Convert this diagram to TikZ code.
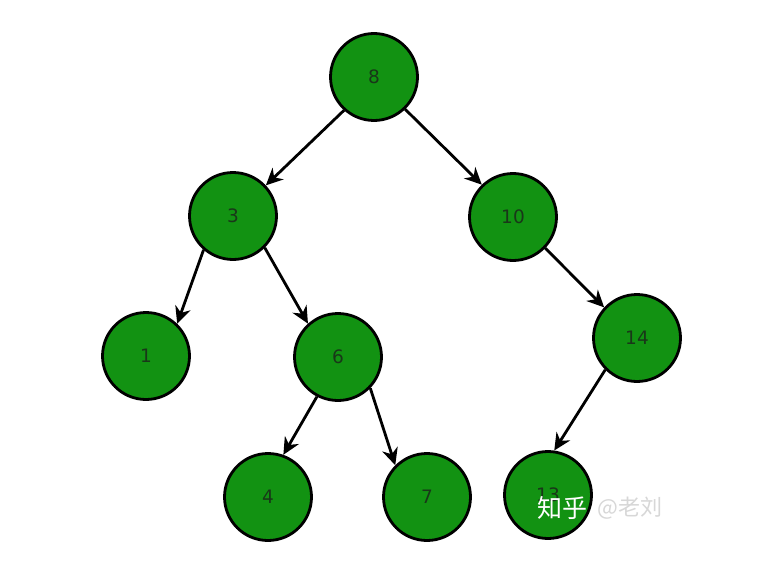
\documentclass[tikz,border=0pt]{standalone}
\usepackage{fontspec}
\setmainfont{DejaVu Sans}
\newfontfamily\cjk{Noto Sans CJK SC}
\usetikzlibrary{arrows.meta}
\definecolor{nodegreen}{RGB}{18,146,18}
\definecolor{numcol}{RGB}{25,55,25}
\definecolor{wmgrey}{RGB}{215,215,215}
\begin{document}
\begin{tikzpicture}[x=1pt,y=-1pt,
  tnode/.style={circle, draw=black, line width=2.8pt, fill=nodegreen, minimum size=87pt, inner sep=0pt, text=numcol, font=\fontsize{18.5}{18.5}\selectfont},
  edge/.style={line width=2.8pt, -{Stealth[length=17pt,width=16pt,inset=5.5pt]}},
  wmark/.style={inner sep=0pt}]
\useasboundingbox[fill=white] (0,0) rectangle (757,567);
\node[tnode] (n8) at (374,77) {8};
\node[tnode] (n3) at (233,216) {3};
\node[tnode] (n10) at (513,217) {10};
\node[tnode] (n1) at (146,356) {1};
\node[tnode] (n6) at (338,357) {6};
\node[tnode] (n14) at (637,338) {14};
\node[tnode] (n4) at (268,497) {4};
\node[tnode] (n7) at (427,497) {7};
\node[tnode] (n13) at (548,495) {13};
\draw[edge] (n8.228) -- (n3.43);
\draw[edge] (n8.314) -- (n10.134);
\draw[edge] (n3.229) -- (n1.46);
\draw[edge] (n3.315) -- (n6.132);
\draw[edge] (n10.316) -- (n14.137);
\draw[edge] (n6.242) -- (n4.70);
\draw[edge] (n6.316) -- (n7.135);
\draw[edge] (n14.225) -- (n13.82);
\node[wmark, font=\cjk\fontsize{25}{25}\selectfont, text=white] (wm1) at (562,508) {知乎};
\node[wmark, font=\cjk\fontsize{22}{22}\selectfont, text=wmgrey] (wm2) at (630,508) {@老刘};
\end{tikzpicture}
\end{document}
